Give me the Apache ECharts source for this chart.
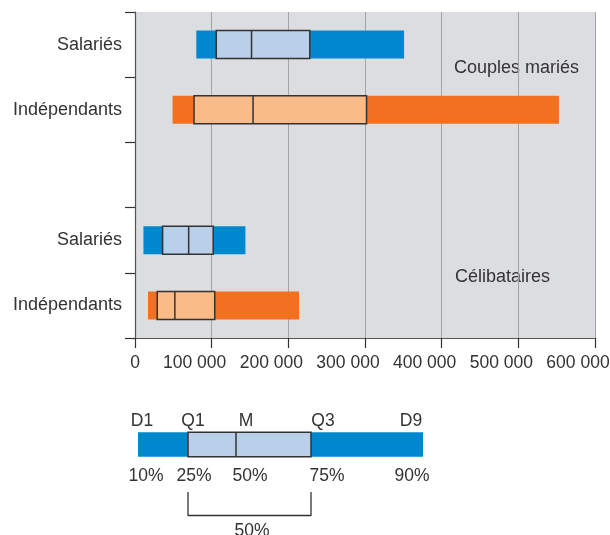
<!DOCTYPE html>
<html><head><meta charset="utf-8">
<script src="https://cdn.jsdelivr.net/npm/echarts@6/dist/echarts.min.js"></script>
<style>html,body{margin:0;padding:0;background:#fff}#c{width:610px;height:535px}</style>
</head><body><div id="c"></div>
<script>
// Categories (top to bottom)
const categories = ['Salariés', 'Indépendants', '', 'Salariés', 'Indépendants'];
const groupLabels = ['Couples mariés', 'Célibataires'];
// Values: [D1, Q1, Médiane, Q3, D9]
const salariesCouples     = [80000, 106000, 152000, 228000, 351000];
const independantsCouples = [49000, 77000, 154000, 302000, 553000];
const salariesCelib       = [11000, 36000, 70000, 102000, 144000];
const independantsCelib   = [17000, 29000, 52000, 104000, 214000];
const xTicks = [0, 100000, 200000, 300000, 400000, 500000, 600000];
// Legend schematic
const legendKeys = ['D1', 'Q1', 'M', 'Q3', 'D9'];
const legendPercents = ['10%', '25%', '50%', '75%', '90%'];
const legendSchema = [0, 50, 98, 173, 285];
const bracketLabel = '50%';

const BLUE = '#0088cf', LBLUE = '#b9cfea', ORANGE = '#f37021', LORANGE = '#f9bb87';
const FONT = '"Liberation Sans", Arial, sans-serif';

function makeRender(h, dark, light) {
  return function (params, api) {
    const y = api.value(0);
    const p = [1, 2, 3, 4, 5].map(i => api.coord([api.value(i), y]));
    const cy = p[0][1];
    return {
      type: 'group',
      children: [
        { type: 'rect', shape: { x: p[0][0], y: cy - h / 2, width: p[4][0] - p[0][0], height: h }, style: { fill: dark } },
        { type: 'rect', shape: { x: p[1][0], y: cy - h / 2, width: p[3][0] - p[1][0], height: h }, style: { fill: light, stroke: '#333', lineWidth: 1.5 } },
        { type: 'line', shape: { x1: p[2][0], y1: cy - h / 2, x2: p[2][0], y2: cy + h / 2 }, style: { stroke: '#333', lineWidth: 1.5 } }
      ]
    };
  };
}

const fmt = v => v === 0 ? '{z|0}' : '{n|' + String(v).replace(/\B(?=(\d{3})+(?!\d))/g, ' ') + '}';

const chart = echarts.init(document.getElementById('c'), null, { renderer: 'canvas' });

const legendTexts = [];
const letterX = [142, 193, 246, 323, 411];
const pctX = [146, 194, 250, 327, 412];
legendKeys.forEach((k, i) => legendTexts.push({ type: 'text', x: letterX[i], y: 421, style: { text: k, fill: '#333', font: '17.5px ' + FONT, textAlign: 'center', textVerticalAlign: 'middle' } }));
legendPercents.forEach((k, i) => legendTexts.push({ type: 'text', x: pctX[i], y: 476, style: { text: k, fill: '#333', font: '17.5px ' + FONT, textAlign: 'center', textVerticalAlign: 'middle' } }));
legendTexts.push({ type: 'text', x: 252, y: 531, style: { text: bracketLabel, fill: '#333', font: '17.5px ' + FONT, textAlign: 'center', textVerticalAlign: 'middle' } });

chart.setOption({
  animation: false,
  textStyle: { fontFamily: FONT },
  grid: [
    { left: 135, top: 12, width: 460, height: 326, show: true, backgroundColor: '#dcdde0', borderWidth: 0, containLabel: false, outerBoundsMode: 'none' },
    { left: 138, top: 410, width: 285, height: 125, containLabel: false, outerBoundsMode: 'none' }
  ],
  xAxis: [
    {
      type: 'value', gridIndex: 0, min: xTicks[0], max: xTicks[xTicks.length - 1], interval: 100000,
      axisLine: { show: true, lineStyle: { color: '#555', width: 1.2 } },
      axisTick: { show: true, length: 10, lineStyle: { color: '#333', width: 1.2 } },
      axisLabel: {
        color: '#333', fontSize: 17.5, margin: 16, formatter: fmt, showMaxLabel: true, showMinLabel: true,
        rich: {
          z: { fontSize: 17.5, color: '#333', fontFamily: FONT },
          n: { fontSize: 17.5, color: '#333', fontFamily: FONT, padding: [0, 34, 0, 0] }
        }
      },
      splitLine: { show: true, lineStyle: { color: '#a4a4a4', width: 1 } }
    },
    { type: 'value', gridIndex: 1, min: 0, max: 285, show: false }
  ],
  yAxis: [
    {
      type: 'category', gridIndex: 0, data: categories, inverse: true,
      axisLine: { show: true, lineStyle: { color: '#555', width: 1.2 } },
      axisTick: { show: true, length: 10, interval: 0, lineStyle: { color: '#333', width: 1.2 } },
      axisLabel: { color: '#333', fontSize: 18, margin: 13, interval: 0 },
      splitLine: { show: false }
    },
    { type: 'value', gridIndex: 1, min: 0, max: 125, inverse: true, show: false }
  ],
  graphic: [
    { type: 'text', x: 454, y: 68, style: { text: groupLabels[0], fill: '#333', font: '18px ' + FONT, textVerticalAlign: 'middle' } },
    { type: 'text', x: 455, y: 277, style: { text: groupLabels[1], fill: '#333', font: '18px ' + FONT, textVerticalAlign: 'middle' } }
  ].concat(legendTexts),
  series: [
    {
      name: 'Salariés', type: 'custom', xAxisIndex: 0, yAxisIndex: 0,
      renderItem: makeRender(28, BLUE, LBLUE),
      encode: { x: [1, 2, 3, 4, 5], y: 0 },
      data: [[0].concat(salariesCouples), [3].concat(salariesCelib)]
    },
    {
      name: 'Indépendants', type: 'custom', xAxisIndex: 0, yAxisIndex: 0,
      renderItem: makeRender(28, ORANGE, LORANGE),
      encode: { x: [1, 2, 3, 4, 5], y: 0 },
      data: [[1].concat(independantsCouples), [4].concat(independantsCelib)]
    },
    {
      name: 'Légende', type: 'custom', xAxisIndex: 1, yAxisIndex: 1,
      renderItem: makeRender(24.5, BLUE, LBLUE),
      encode: { x: [1, 2, 3, 4, 5], y: 0 },
      data: [[34.5].concat(legendSchema)]
    },
    {
      name: 'Accolade', type: 'line', xAxisIndex: 1, yAxisIndex: 1, symbol: 'none',
      lineStyle: { color: '#333', width: 1.3 },
      data: [[legendSchema[1], 82], [legendSchema[1], 105.5], [legendSchema[3], 105.5], [legendSchema[3], 82]]
    }
  ]
});
</script></body></html>
